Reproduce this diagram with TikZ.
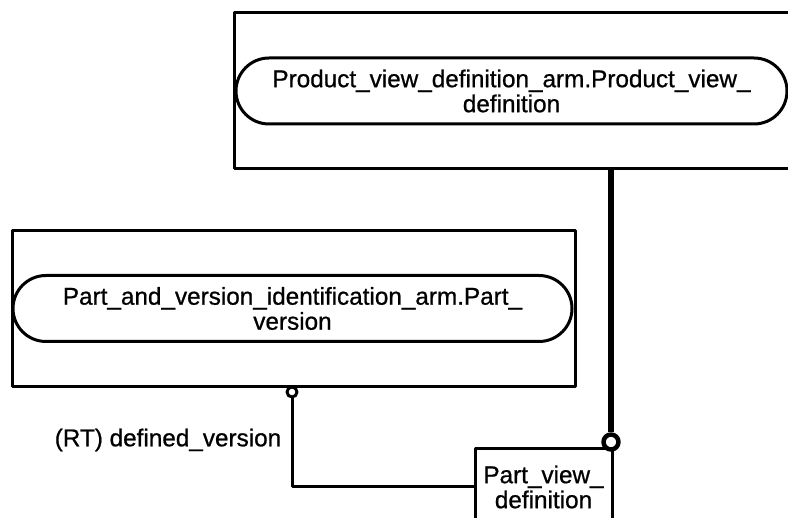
\documentclass[tikz,border=0pt]{standalone}
\usepackage{fontspec}
\setmainfont[FakeBold=0.8]{Liberation Sans}
\usetikzlibrary{positioning}
\begin{document}
\begin{tikzpicture}[x=1pt,y=-1pt,line join=round,
	lbl/.style={font=\fontsize{24.3}{25}\selectfont,align=center},
	entbox/.style={draw,line width=3pt,inner sep=0pt},
	pill/.style={draw,line width=3pt,rounded corners=33pt,minimum height=66pt,inner sep=0pt,lbl},
	ring/.style={draw,circle,fill=white,inner sep=0pt}]
	\useasboundingbox (0,0) rectangle (788,518);
	\clip (0,0) rectangle (788,518);
	% schema boxes
	\node[entbox,minimum width=566pt,minimum height=156pt] (pvdarm) at (517,91) {};
	\node[pill,minimum width=551pt] (pvdname) at (511.5,91) {Product\_view\_definition\_arm.Product\_view\_\\definition};
	\node[entbox,minimum width=563pt,minimum height=156pt] (pvarm) at (293.5,309) {};
	\node[pill,minimum width=559pt] (pvname) at (292.5,308.5) {Part\_and\_version\_identification\_arm.Part\_\\version};
	\node[entbox,minimum width=137pt,minimum height=76pt,lbl] (pvd) at (543.5,487) {Part\_view\_\\definition};
	% relations
	\node[ring,line width=4.5pt,minimum size=15pt] (bigring) at (611,442) {};
	\node[ring,line width=3pt,minimum size=10pt] (smallring) at (292,392) {};
	\draw[line width=6.5pt] (pvdarm.south -| bigring) -- (bigring.north);
	\draw[line width=3pt] (smallring.south) |- (pvd.west);
	\node[lbl] (rolename) at (168,440) {(RT) defined\_version};
\end{tikzpicture}
\end{document}
